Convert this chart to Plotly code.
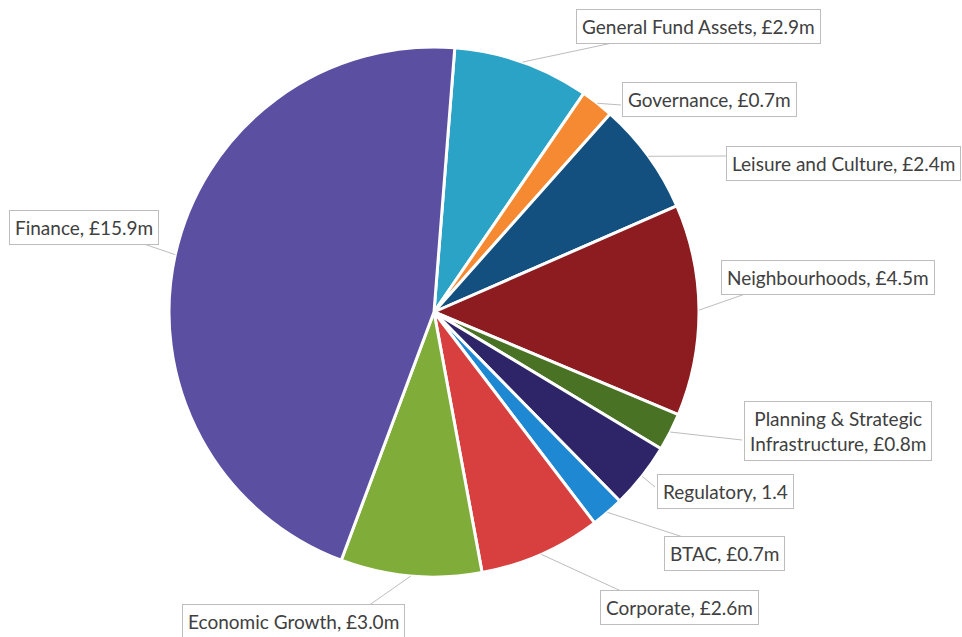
import math
import plotly.graph_objects as go

# Budget by service area (£m), in clockwise order from 12 o'clock
services = [
    "General Fund Assets", "Governance", "Leisure and Culture", "Neighbourhoods",
    "Planning & Strategic Infrastructure", "Regulatory", "BTAC", "Corporate",
    "Economic Growth", "Finance",
]
budget_m = [2.9, 0.7, 2.4, 4.5, 0.8, 1.4, 0.7, 2.6, 3.0, 15.9]
label_text = [
    "General Fund Assets, £2.9m", "Governance, £0.7m", "Leisure and Culture, £2.4m",
    "Neighbourhoods, £4.5m", "Planning & Strategic<br>Infrastructure, £0.8m",
    "Regulatory, 1.4", "BTAC, £0.7m", "Corporate, £2.6m",
    "Economic Growth, £3.0m", "Finance, £15.9m",
]
slice_colors = [
    "#2BA3C6", "#F58A33", "#134F7F", "#8C1C1F", "#4A7225",
    "#2E2568", "#1E88D2", "#D7403F", "#80AD39", "#5B4FA2",
]

W, H = 962, 637
CX, CY, R = 434, 312, 265          # pie centre and radius in pixels
ROTATION = 4.5                      # start angle, degrees clockwise from 12 o'clock

# Label box centres and the point on each box where its leader line ends (pixels)
box_centre = [
    (698, 26), (709, 99), (843, 163), (828, 277), (838, 431),
    (725, 492), (724, 553), (679, 607), (293, 621), (84, 227),
]
leader_end = [
    (617, 42), (621, 105), (727, 156), (748, 293), (742, 440),
    (655, 487), (683, 537), (621, 591), (368, 606), (138, 242),
]


def px(x):
    return x / W


def py(y):
    return 1 - y / H


fig = go.Figure(go.Pie(
    labels=services,
    values=budget_m,
    sort=False,
    direction="clockwise",
    rotation=ROTATION,
    marker=dict(colors=slice_colors, line=dict(color="white", width=3)),
    textinfo="none",
    hoverinfo="label+value",
    showlegend=False,
    domain=dict(x=[px(CX - R), px(CX + R)], y=[py(CY + R), py(CY - R)]),
))

# Leader lines start at the outer edge of each slice's mid-angle
total = sum(budget_m)
shapes = []
annotations = []
start = ROTATION
for i, v in enumerate(budget_m):
    sweep = v / total * 360
    mid = math.radians(start + sweep / 2)
    start += sweep
    ex = CX + R * math.sin(mid)
    ey = CY - R * math.cos(mid)
    lx, ly = leader_end[i]
    shapes.append(dict(
        type="line", xref="paper", yref="paper",
        x0=px(ex), y0=py(ey), x1=px(lx), y1=py(ly),
        line=dict(color="#BDBDBD", width=1),
    ))
    bx, by = box_centre[i]
    annotations.append(dict(
        x=px(bx), y=py(by), xref="paper", yref="paper",
        text=label_text[i], showarrow=False, align="center",
        xanchor="center", yanchor="middle",
        font=dict(family="Lato", size=19, color="#404040"),
        bgcolor="white", bordercolor="#BDBDBD", borderwidth=1, borderpad=5,
    ))

fig.update_layout(
    width=W, height=H,
    margin=dict(l=0, r=0, t=0, b=0),
    paper_bgcolor="white",
    plot_bgcolor="white",
    shapes=shapes,
    annotations=annotations,
)

fig.write_html("out.html")
